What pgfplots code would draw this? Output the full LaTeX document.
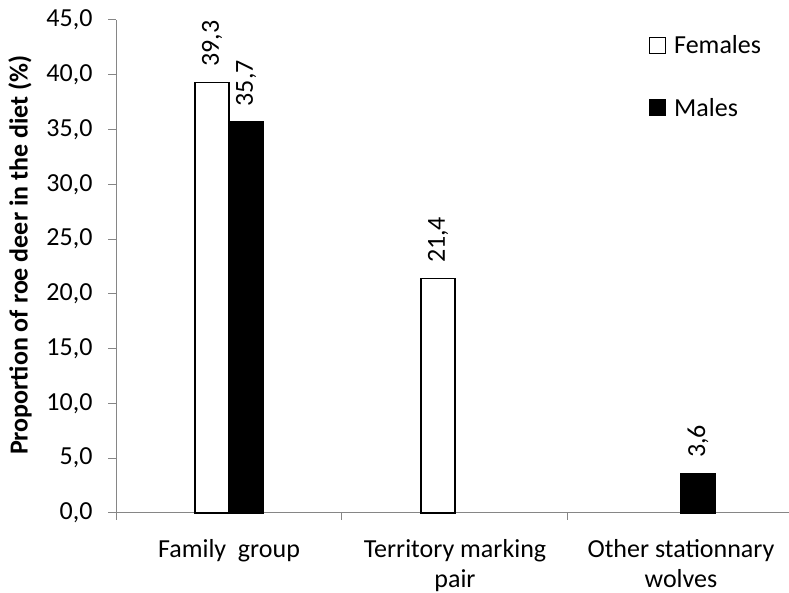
\documentclass[border=0pt]{standalone}
\usepackage{pgfplots}
\pgfplotsset{compat=1.18}
\usepackage{fontspec}
\setmainfont{Carlito}
\definecolor{axisgray}{RGB}{134,134,134}
\newcommand{\chartfont}{\fontsize{26}{30}\selectfont}

\begin{document}
\begin{tikzpicture}[x=1pt,y=1pt]
\useasboundingbox (0,0) rectangle (789,593);
\begin{axis}[
  at={(116pt,80pt)}, anchor=south west,
  scale only axis, width=673pt, height=493pt,
  xmin=-0.5, xmax=2.478, ymin=0, ymax=45,
  axis x line*=bottom, axis y line*=left,
  axis line style={axisgray, line width=1pt},
  tick align=outside,
  ytick={0,5,...,45},
  major tick length=8pt,
  y tick style={axisgray, line width=1pt},
  yticklabel style={font=\chartfont, xshift=-12pt,
    /pgf/number format/.cd, fixed, fixed zerofill, precision=1, use comma, assume math mode=true},
  xtick={0,1,2},
  xticklabels={Family\ \ group, Territory marking\\pair, Other stationnary\\wolves},
  xticklabel style={font=\chartfont, align=center, yshift=-15pt},
  major x tick style={draw=none},
  minor xtick={-0.5,0.5,1.5,2.5},
  minor tick length=7pt,
  minor x tick style={axisgray, line width=1pt},
  ylabel={Proportion of roe deer in the diet (\%)},
  every axis y label/.style={at={(rel axis cs:0,0.523)}, xshift=-96pt, rotate=90, anchor=center, font=\chartfont\bfseries},
  ybar=0pt, bar width=34pt,
  nodes near coords={\pgfmathprintnumber[fixed, fixed zerofill, precision=1, use comma, assume math mode=true]{\pgfplotspointmeta}},
  nodes near coords style={rotate=90, anchor=west, font=\chartfont, inner xsep=15pt, inner ysep=2pt},
  legend style={at={(rel axis cs:0.792,0.975)}, anchor=north west, draw=none, fill=none,
    font=\chartfont, row sep=37pt, inner sep=0pt, nodes={inner sep=3pt},
    /tikz/every odd column/.style={column sep=5pt}},
  legend cell align=left,
  legend image code/.code={\draw[#1, line width=1pt] (0pt,-8pt) rectangle (16pt,8pt);},
  clip=false,
]
% Females
\addplot[draw=black, fill=white, line width=1.2pt] coordinates {(0,39.3) (1,21.4)};
% Males
\addplot[draw=black, fill=black, line width=1.2pt] coordinates {(0,35.7) (2,3.6)};
\legend{Females, Males}
\end{axis}
\end{tikzpicture}
\end{document}
